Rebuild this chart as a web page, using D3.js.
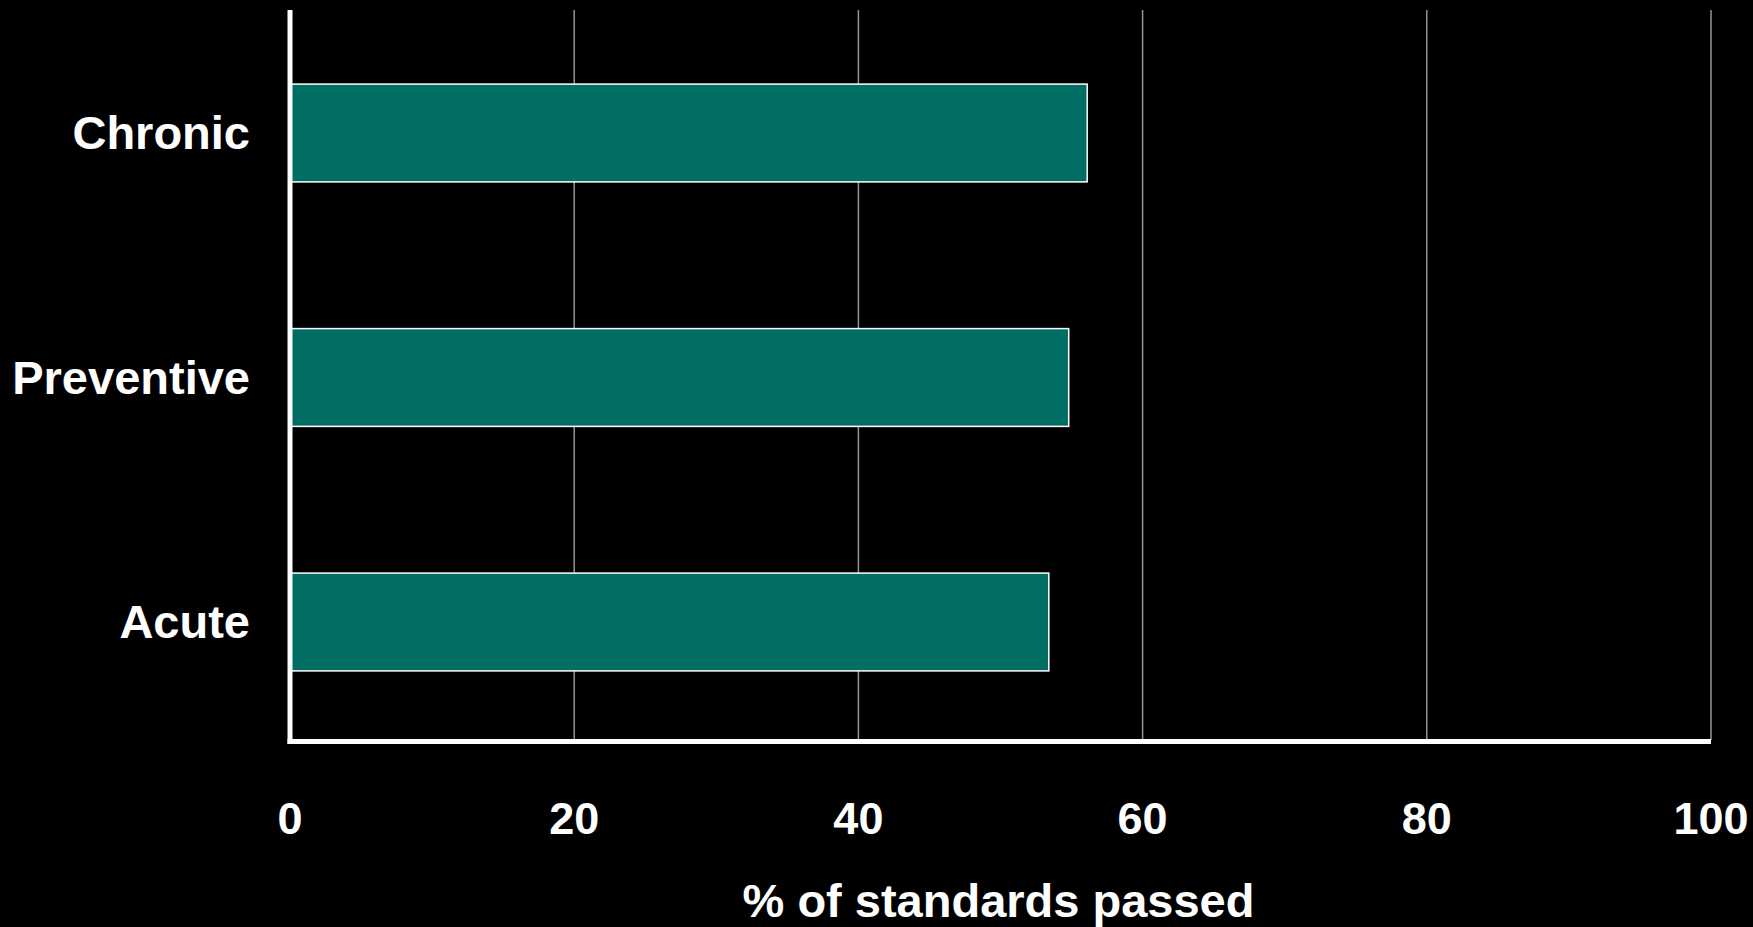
<!DOCTYPE html>
<html>
<head>
<meta charset="utf-8">
<script src="https://cdn.jsdelivr.net/npm/d3@7"></script>
<style>
  html, body { margin: 0; padding: 0; background: #000; }
  svg { display: block; }
  text { font-family: "Liberation Sans", Arial, sans-serif; font-weight: bold; fill: #fff; }
</style>
</head>
<body>
<svg id="chart" width="1753" height="927"></svg>
<script>
const categories = ["Chronic", "Preventive", "Acute"];
const values = [56.1, 54.8, 53.4];
const tickValues = [0, 20, 40, 60, 80, 100];
const axisTitle = "% of standards passed";

const svg = d3.select("#chart");
const W = 1753, H = 927;
svg.append("rect").attr("width", W).attr("height", H).attr("fill", "#000");

const x = d3.scaleLinear().domain([0, 100]).range([290, 1711]);
const y = d3.scaleBand().domain(categories).range([10.75, 744.25]).paddingInner(0.6).paddingOuter(0.3);

// gridlines
svg.append("g").selectAll("line").data(tickValues.filter(d => d > 0)).join("line")
  .attr("x1", d => x(d)).attr("x2", d => x(d))
  .attr("y1", 10).attr("y2", 740)
  .attr("stroke", "#949494").attr("stroke-width", 1.5);

// bars
svg.append("g").selectAll("rect").data(categories).join("rect")
  .attr("x", x(0))
  .attr("y", d => y(d))
  .attr("width", (d, i) => x(values[i]) - x(0))
  .attr("height", y.bandwidth())
  .attr("fill", "#016e64")
  .attr("stroke", "#fff").attr("stroke-width", 1.5);

// axes lines
svg.append("line").attr("x1", x(0)).attr("x2", x(0)).attr("y1", 10).attr("y2", 744)
  .attr("stroke", "#fff").attr("stroke-width", 5);
svg.append("line").attr("x1", x(0) - 2.5).attr("x2", x(100)).attr("y1", 741.5).attr("y2", 741.5)
  .attr("stroke", "#fff").attr("stroke-width", 5);

// x tick labels
svg.append("g").selectAll("text").data(tickValues).join("text")
  .attr("x", d => x(d)).attr("y", 834)
  .attr("text-anchor", "middle")
  .attr("font-size", 45)
  .text(d => d);

// category labels
svg.append("g").selectAll("text").data(categories).join("text")
  .attr("x", 250).attr("y", d => y(d) + y.bandwidth() / 2)
  .attr("dy", "0.35em")
  .attr("text-anchor", "end")
  .attr("font-size", 47)
  .text(d => d);

// axis title
svg.append("text")
  .attr("x", (x(0) + x(100)) / 2 - 2).attr("y", 917)
  .attr("text-anchor", "middle")
  .attr("font-size", 47)
  .text(axisTitle);
</script>
</body>
</html>
